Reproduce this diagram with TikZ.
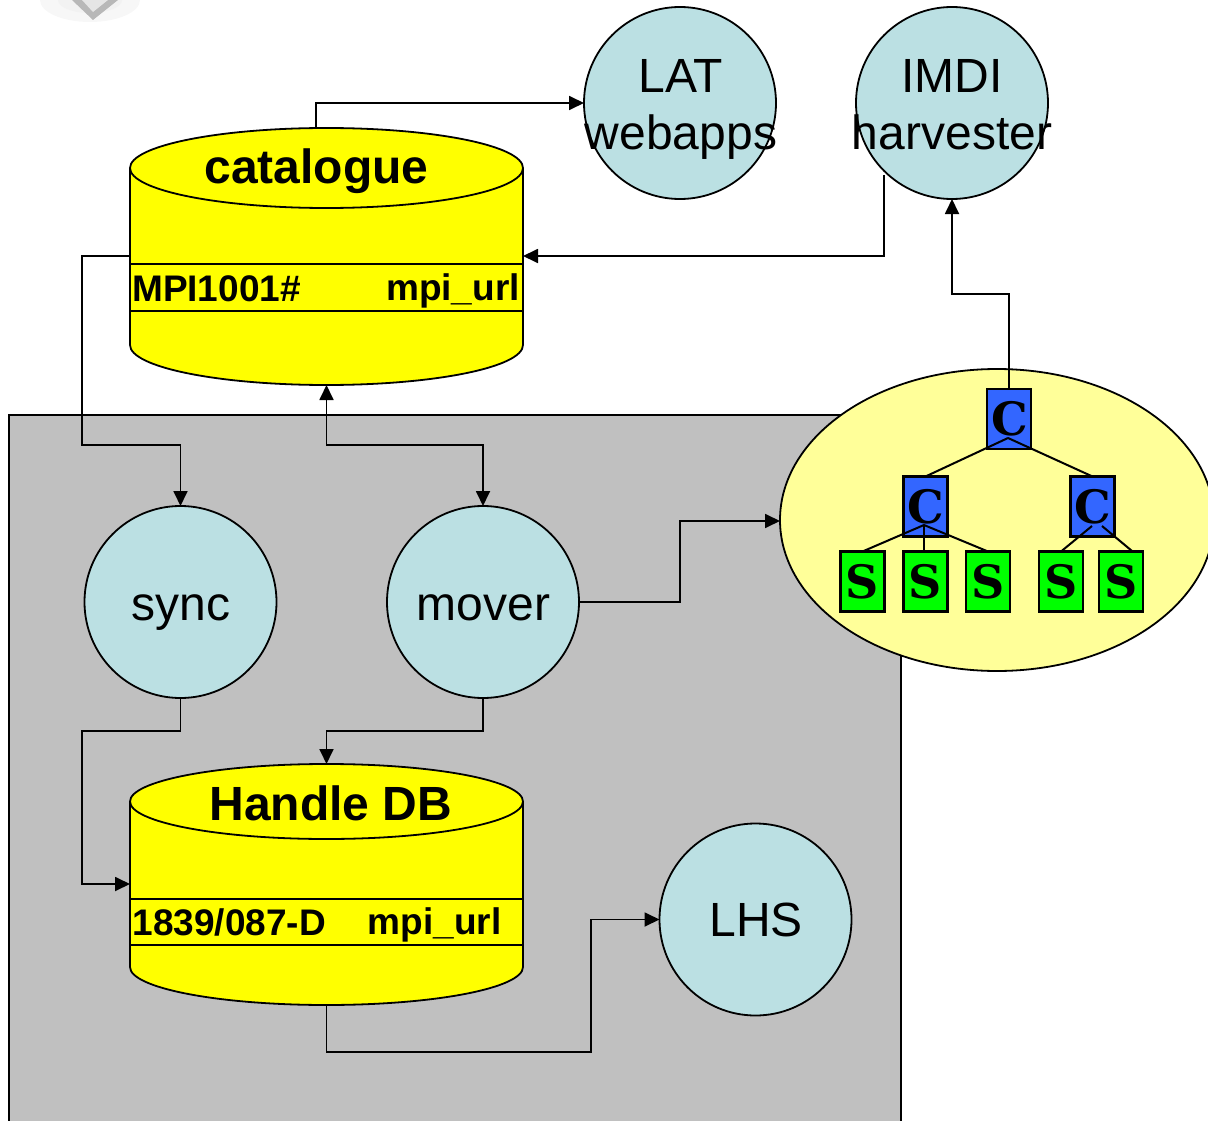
\documentclass[tikz,border=0pt]{standalone}
\usepackage{fontspec}
\setmainfont{Liberation Sans}
\newfontfamily\slabfont{DejaVu Serif}
\usetikzlibrary{arrows.meta,calc,shapes.geometric}
\definecolor{cyl}{RGB}{255,255,0}
\definecolor{circ}{RGB}{187,224,227}
\definecolor{panel}{RGB}{192,192,192}
\definecolor{paleyellow}{RGB}{255,255,153}
\definecolor{cbox}{RGB}{51,102,255}
\definecolor{sbox}{RGB}{0,255,0}
\tikzset{
  ln/.style={draw=black,line width=1.8pt},
  arr/.style={ln,-{Triangle[length=15pt,width=14pt]}},
  darr/.style={ln,{Triangle[length=15pt,width=14pt]}-{Triangle[length=15pt,width=14pt]}},
  proc/.style={circle,ln,fill=circ,minimum size=192pt,inner sep=0pt,outer sep=0pt},
  big/.style={font=\fontsize{48}{57}\selectfont,inner sep=0pt,align=center},
  head/.style={font=\fontsize{48}{57}\selectfont\bfseries,inner sep=0pt},
  cell/.style={font=\fontsize{37}{44}\selectfont\bfseries,inner sep=0pt},
  cylbox/.style={inner sep=0pt,outer sep=0pt,minimum width=393pt},
  tree/.style={rectangle,draw=black,line width=2.4pt,minimum width=44pt,minimum height=60pt,inner sep=0pt,outer sep=0pt,
     font=\fontsize{46}{50}\selectfont\slabfont\bfseries},
  cnode/.style={tree,fill=cbox},
  snode/.style={tree,fill=sbox},
  edge/.style={draw=black,line width=2pt}
}
\begin{document}
\begin{tikzpicture}[x=1pt,y=-1pt]
\useasboundingbox (0,0) rectangle (1208,1121);
\clip (0,0) rectangle (1208,1121);
% blurred picture fragment at top left
\fill[black!3] (90,0) ellipse (50 and 22);
\fill[black!5] (90,0) ellipse (32 and 13);
\fill[black!28] (72,0) -- (93,20) -- (118,0) -- cycle;
\fill[black!10] (82,0) -- (93,12) -- (108,0) -- cycle;
% grey panel
\node[fill=panel,draw=black,line width=1.8pt,minimum width=892pt,minimum height=800pt,inner sep=0pt,outer sep=0pt,anchor=north west] (panel) at (9,415) {};
% free ends
\coordinate (catL) at (130,256);
\coordinate (catTop) at (316,128);
\coordinate (hdbL) at (130,884);
\coordinate (imdiOut) at (884,175);
% catalogue cylinder
\node[cylbox,minimum height=257pt] (cat) at (326.5,256.5) {};
\draw[ln,fill=cyl] (130,168) -- (130,345) arc[start angle=180,end angle=0,x radius=196.5,y radius=40] -- (523,168);
\draw[ln,fill=cyl] (326.5,168) ellipse (196.5 and 40);
\draw[ln] (130,264) -- (523,264) (130,311) -- (523,311);
\node[head] (catT) at (316.5,171) {catalogue};
\node[cell,anchor=west] (catA) at (132,288.5) {MPI1001\#};
\node[cell,anchor=west] (catB) at (386,291) {mpi\_url};
% handle cylinder
\node[cylbox,minimum height=241pt] (hdb) at (326.5,884.5) {};
\draw[ln,fill=cyl] (130,801.5) -- (130,967) arc[start angle=180,end angle=0,x radius=196.5,y radius=38] -- (523,801.5);
\draw[ln,fill=cyl] (326.5,801.5) ellipse (196.5 and 37.5);
\draw[ln] (130,899) -- (523,899) (130,945) -- (523,945);
\node[head] (hdbT) at (331,803) {Handle DB};
\node[cell,anchor=west] (hdbA) at (132.5,922.5) {1839/087-D};
\node[cell,anchor=west] (hdbB) at (367.5,925) {mpi\_url};
% yellow ellipse
\node[ellipse,draw=black,line width=1.8pt,fill=paleyellow,minimum width=434pt,minimum height=302pt,inner sep=0pt,outer sep=0pt] (coll) at (997,520) {};
% circles
\node[proc] (lat) at (680,103) {};
\node[big] (latT) at (681,109.5) {LAT\\webapps};
\node[proc] (imdi) at (952,103) {};
\node[big] (imdiT) at (952,104.5) {IMDI\\harvester};
\node[proc] (sync) at (180.5,602) {};
\node[big] (syncT) at (181,613) {sync};
\node[proc] (mover) at (483,602) {};
\node[big] (moverT) at (483.5,608) {mover};
\node[proc] (lhs) at (755.5,919.5) {};
\node[big] (lhsT) at (756,920) {LHS};
% tree boxes
\node[cnode] (c0) at (1009,419) {\kern2pt C};
\node[cnode] (c1) at (925.5,506.5) {C};
\node[cnode] (c2) at (1092.5,506.5) {C};
\node[snode] (s1) at (862.5,581.5) {S};
\node[snode] (s2) at (925.5,581.5) {S};
\node[snode] (s3) at (988,581.5) {S};
\node[snode] (s4) at (1061,581.5) {S};
\node[snode] (s5) at (1121,581.5) {S};
\coordinate (j0) at (1008,438);
\coordinate (j1) at (924,525);
\coordinate (j2) at (1092,526);
\coordinate (j3) at (1102,526);
\coordinate (s5e) at (1132,551);
\draw[edge] (j0) -- (c1.north);
\draw[edge] (j0) -- (c2.north);
\draw[edge] (j1) -- (s1.north);
\draw[edge] (j1) -- (s2.north -| j1);
\draw[edge] (j1) -- (s3.north);
\draw[edge] (j2) -- (s4.north);
\draw[edge] (j3) -- (s5e);
% connectors
\draw[arr] (catTop) |- (lat.west);
\draw[arr] (imdiOut) |- (catL -| cat.east);
\draw[arr] (catL) -| (82,445) -| (sync.north);
\draw[darr] (cat.south) |- (400,445) -| (mover.north);
\draw[arr] (mover.east) -| (680,521) -- (coll.west |- 0,521);
\draw[arr] (sync.south) |- (82,731) |- (hdbL);
\draw[arr] (mover.south) |- (400,731) -| (hdb.north);
\draw[arr] (hdb.south) |- (591,1052) |- (lhs.west);
\draw[arr] (c0.north) |- (980,294) -| (imdi.south);
\end{tikzpicture}
\end{document}
